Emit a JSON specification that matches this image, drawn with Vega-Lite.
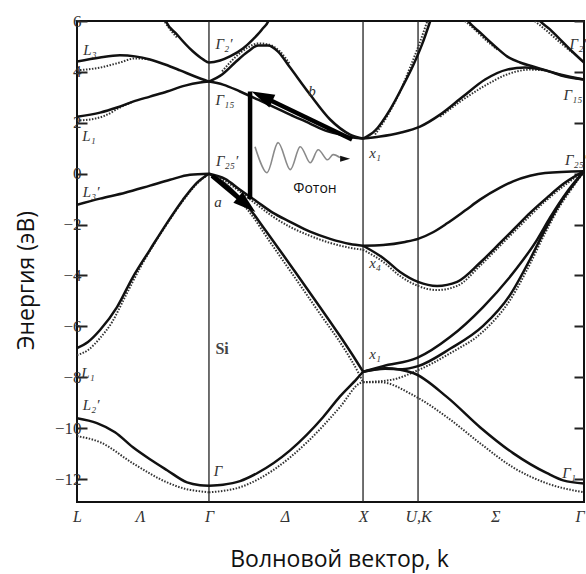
{
  "$schema": "https://vega.github.io/schema/vega-lite/v6.json",
  "width": 507,
  "height": 481,
  "autosize": {"type": "none"},
  "padding": {"left": 77, "top": 21, "right": 2, "bottom": 72},
  "background": "white",
  "config": {"view": {"stroke": "#111", "strokeWidth": 2}},
  "datasets": {
    "solid": [
      {"b":"s1","k":0,"E":-9.61},{"b":"s1","k":0.129,"E":-9.80},{"b":"s1","k":0.246,"E":-10.16},{"b":"s1","k":0.362,"E":-10.75},{"b":"s1","k":0.472,"E":-11.22},{"b":"s1","k":0.583,"E":-11.65},{"b":"s1","k":0.712,"E":-12.13},{"b":"s1","k":0.796,"E":-12.24},{"b":"s1","k":0.854,"E":-12.26},
      {"b":"s2","k":0.854,"E":-12.26},{"b":"s2","k":0.945,"E":-12.22},{"b":"s2","k":1.055,"E":-12.08},{"b":"s2","k":1.165,"E":-11.77},{"b":"s2","k":1.379,"E":-10.87},{"b":"s2","k":1.592,"E":-9.57},{"b":"s2","k":1.702,"E":-8.75},{"b":"s2","k":1.812,"E":-8.05},{"b":"s2","k":1.851,"E":-7.78},
      {"b":"s3","k":1.851,"E":-7.78},{"b":"s3","k":1.994,"E":-7.64},{"b":"s3","k":2.175,"E":-7.83},{"b":"s3","k":2.395,"E":-8.78},{"b":"s3","k":2.608,"E":-9.96},{"b":"s3","k":2.822,"E":-10.98},{"b":"s3","k":3.042,"E":-11.77},{"b":"s3","k":3.146,"E":-12.05},{"b":"s3","k":3.281,"E":-12.17},
      {"b":"s4","k":0,"E":-6.85},{"b":"s4","k":0.071,"E":-6.61},{"b":"s4","k":0.149,"E":-6.14},{"b":"s4","k":0.259,"E":-5.24},{"b":"s4","k":0.362,"E":-4.06},{"b":"s4","k":0.472,"E":-2.99},{"b":"s4","k":0.583,"E":-1.93},{"b":"s4","k":0.686,"E":-1.02},{"b":"s4","k":0.777,"E":-0.35},{"b":"s4","k":0.854,"E":0},
      {"b":"s5","k":0,"E":-1.22},{"b":"s5","k":0.149,"E":-0.98},{"b":"s5","k":0.311,"E":-0.75},{"b":"s5","k":0.472,"E":-0.47},{"b":"s5","k":0.602,"E":-0.24},{"b":"s5","k":0.731,"E":-0.04},{"b":"s5","k":0.854,"E":0},
      {"b":"s6","k":0.854,"E":0},{"b":"s6","k":0.958,"E":-0.20},{"b":"s6","k":1.055,"E":-0.63},{"b":"s6","k":1.165,"E":-1.10},{"b":"s6","k":1.269,"E":-1.54},{"b":"s6","k":1.379,"E":-1.89},{"b":"s6","k":1.508,"E":-2.28},{"b":"s6","k":1.638,"E":-2.56},{"b":"s6","k":1.767,"E":-2.76},{"b":"s6","k":1.851,"E":-2.83},
      {"b":"s7","k":0.854,"E":0},{"b":"s7","k":0.939,"E":-0.31},{"b":"s7","k":1.023,"E":-0.75},{"b":"s7","k":1.107,"E":-1.30},{"b":"s7","k":1.217,"E":-2.20},{"b":"s7","k":1.379,"E":-3.58},{"b":"s7","k":1.540,"E":-4.96},{"b":"s7","k":1.702,"E":-6.38},{"b":"s7","k":1.812,"E":-7.40},{"b":"s7","k":1.851,"E":-7.78},
      {"b":"s8","k":1.851,"E":-2.83},{"b":"s8","k":1.981,"E":-2.80},{"b":"s8","k":2.123,"E":-2.68},{"b":"s8","k":2.207,"E":-2.56},{"b":"s8","k":2.304,"E":-2.30},{"b":"s8","k":2.395,"E":-1.95},{"b":"s8","k":2.511,"E":-1.45},{"b":"s8","k":2.608,"E":-1.02},{"b":"s8","k":2.738,"E":-0.55},{"b":"s8","k":2.822,"E":-0.30},{"b":"s8","k":2.932,"E":-0.08},{"b":"s8","k":3.029,"E":0.03},{"b":"s8","k":3.281,"E":0.1},
      {"b":"s9","k":1.851,"E":-2.83},{"b":"s9","k":1.981,"E":-3.31},{"b":"s9","k":2.091,"E":-3.86},{"b":"s9","k":2.207,"E":-4.25},{"b":"s9","k":2.330,"E":-4.41},{"b":"s9","k":2.460,"E":-4.25},{"b":"s9","k":2.608,"E":-3.50},{"b":"s9","k":2.738,"E":-2.72},{"b":"s9","k":2.835,"E":-2.13},{"b":"s9","k":2.932,"E":-1.54},{"b":"s9","k":3.042,"E":-0.94},{"b":"s9","k":3.159,"E":-0.35},{"b":"s9","k":3.281,"E":0.1},
      {"b":"s10","k":1.851,"E":-7.78},{"b":"s10","k":1.981,"E":-7.56},{"b":"s10","k":2.201,"E":-7.24},{"b":"s10","k":2.414,"E":-6.42},{"b":"s10","k":2.628,"E":-5.24},{"b":"s10","k":2.848,"E":-3.70},{"b":"s10","k":2.977,"E":-2.60},{"b":"s10","k":3.061,"E":-1.73},{"b":"s10","k":3.172,"E":-0.71},{"b":"s10","k":3.281,"E":0.1},
      {"b":"s20","k":1.851,"E":-7.78},{"b":"s20","k":1.994,"E":-7.66},{"b":"s20","k":2.104,"E":-7.68},{"b":"s20","k":2.207,"E":-7.56},{"b":"s20","k":2.414,"E":-6.88},{"b":"s20","k":2.628,"E":-5.98},{"b":"s20","k":2.803,"E":-4.76},{"b":"s20","k":2.932,"E":-3.36},{"b":"s20","k":3.029,"E":-2.20},{"b":"s20","k":3.126,"E":-1.16},{"b":"s20","k":3.204,"E":-0.50},{"b":"s20","k":3.281,"E":0.1},
      {"b":"s11","k":0.854,"E":3.62},{"b":"s11","k":0.945,"E":3.50},{"b":"s11","k":1.055,"E":3.23},{"b":"s11","k":1.172,"E":2.91},{"b":"s11","k":1.282,"E":2.60},{"b":"s11","k":1.379,"E":2.32},{"b":"s11","k":1.508,"E":1.97},{"b":"s11","k":1.592,"E":1.73},{"b":"s11","k":1.702,"E":1.54},{"b":"s11","k":1.786,"E":1.42},{"b":"s11","k":1.851,"E":1.38},
      {"b":"s12","k":0.854,"E":3.62},{"b":"s12","k":0.939,"E":3.90},{"b":"s12","k":1.023,"E":4.37},{"b":"s12","k":1.107,"E":4.80},{"b":"s12","k":1.172,"E":5.04},{"b":"s12","k":1.236,"E":5.04},{"b":"s12","k":1.301,"E":4.80},{"b":"s12","k":1.379,"E":4.17},{"b":"s12","k":1.508,"E":3.11},{"b":"s12","k":1.638,"E":2.13},{"b":"s12","k":1.767,"E":1.54},{"b":"s12","k":1.851,"E":1.38},
      {"b":"s13","k":0.557,"E":6.5},{"b":"s13","k":0.570,"E":6.06},{"b":"s13","k":0.647,"E":5.47},{"b":"s13","k":0.751,"E":4.80},{"b":"s13","k":0.816,"E":4.49},{"b":"s13","k":0.854,"E":4.37},{"b":"s13","k":0.926,"E":4.45},{"b":"s13","k":0.990,"E":4.61},{"b":"s13","k":1.074,"E":4.92},{"b":"s13","k":1.139,"E":5.28},{"b":"s13","k":1.197,"E":5.67},{"b":"s13","k":1.249,"E":6.14},{"b":"s13","k":1.262,"E":6.5},
      {"b":"s14","k":0,"E":2.24},{"b":"s14","k":0.149,"E":2.40},{"b":"s14","k":0.259,"E":2.60},{"b":"s14","k":0.362,"E":2.83},{"b":"s14","k":0.472,"E":3.03},{"b":"s14","k":0.583,"E":3.23},{"b":"s14","k":0.699,"E":3.46},{"b":"s14","k":0.796,"E":3.58},{"b":"s14","k":0.854,"E":3.62},
      {"b":"s15","k":0,"E":4.41},{"b":"s15","k":0.149,"E":4.57},{"b":"s15","k":0.278,"E":4.65},{"b":"s15","k":0.375,"E":4.61},{"b":"s15","k":0.472,"E":4.49},{"b":"s15","k":0.570,"E":4.29},{"b":"s15","k":0.667,"E":4.06},{"b":"s15","k":0.764,"E":3.82},{"b":"s15","k":0.854,"E":3.62},
      {"b":"s16","k":1.851,"E":1.38},{"b":"s16","k":1.929,"E":1.69},{"b":"s16","k":2.026,"E":2.52},{"b":"s16","k":2.104,"E":3.39},{"b":"s16","k":2.175,"E":4.25},{"b":"s16","k":2.233,"E":5.08},{"b":"s16","k":2.285,"E":5.98},{"b":"s16","k":2.311,"E":6.46},
      {"b":"s17","k":1.851,"E":1.38},{"b":"s17","k":1.961,"E":1.46},{"b":"s17","k":2.091,"E":1.61},{"b":"s17","k":2.220,"E":1.85},{"b":"s17","k":2.350,"E":2.32},{"b":"s17","k":2.498,"E":3.03},{"b":"s17","k":2.641,"E":3.70},{"b":"s17","k":2.783,"E":4.09},{"b":"s17","k":2.900,"E":4.17},{"b":"s17","k":3.029,"E":4.06},{"b":"s17","k":3.159,"E":3.82},{"b":"s17","k":3.281,"E":3.70},
      {"b":"s18","k":2.492,"E":6.4},{"b":"s18","k":2.524,"E":6.06},{"b":"s18","k":2.608,"E":5.55},{"b":"s18","k":2.706,"E":5.00},{"b":"s18","k":2.783,"E":4.61},{"b":"s18","k":2.867,"E":4.37},{"b":"s18","k":2.977,"E":4.17},{"b":"s18","k":3.126,"E":3.90},{"b":"s18","k":3.281,"E":3.70},
      {"b":"s19","k":2.951,"E":6.4},{"b":"s19","k":2.977,"E":6.14},{"b":"s19","k":3.061,"E":5.67},{"b":"s19","k":3.126,"E":5.28},{"b":"s19","k":3.191,"E":4.88},{"b":"s19","k":3.281,"E":4.37}
    ],
    "dotted": [
      {"b":"d1","k":0,"E":-10.31},{"b":"d1","k":0.149,"E":-10.55},{"b":"d1","k":0.362,"E":-11.38},{"b":"d1","k":0.583,"E":-12.13},{"b":"d1","k":0.712,"E":-12.40},{"b":"d1","k":0.796,"E":-12.48},{"b":"d1","k":0.854,"E":-12.52},
      {"b":"d2","k":0.854,"E":-12.52},{"b":"d2","k":1.055,"E":-12.32},{"b":"d2","k":1.269,"E":-11.65},{"b":"d2","k":1.489,"E":-10.55},{"b":"d2","k":1.702,"E":-9.17},{"b":"d2","k":1.832,"E":-8.23},{"b":"d2","k":1.851,"E":-8.19},
      {"b":"d3","k":1.851,"E":-8.19},{"b":"d3","k":1.961,"E":-8.19},{"b":"d3","k":2.175,"E":-8.70},{"b":"d3","k":2.395,"E":-9.57},{"b":"d3","k":2.608,"E":-10.59},{"b":"d3","k":2.822,"E":-11.54},{"b":"d3","k":3.042,"E":-12.17},{"b":"d3","k":3.281,"E":-12.52},
      {"b":"d4","k":0,"E":-7.13},{"b":"d4","k":0.071,"E":-6.93},{"b":"d4","k":0.149,"E":-6.46},{"b":"d4","k":0.227,"E":-5.83},{"b":"d4","k":0.311,"E":-4.84},{"b":"d4","k":0.408,"E":-3.70},{"b":"d4","k":0.472,"E":-3.03},{"b":"d4","k":0.583,"E":-1.97},{"b":"d4","k":0.686,"E":-1.06},{"b":"d4","k":0.777,"E":-0.39},{"b":"d4","k":0.854,"E":0},
      {"b":"d5","k":0.854,"E":0},{"b":"d5","k":0.939,"E":-0.39},{"b":"d5","k":1.029,"E":-0.91},{"b":"d5","k":1.120,"E":-1.54},{"b":"d5","k":1.249,"E":-2.68},{"b":"d5","k":1.411,"E":-4.09},{"b":"d5","k":1.573,"E":-5.51},{"b":"d5","k":1.735,"E":-6.93},{"b":"d5","k":1.819,"E":-7.80},{"b":"d5","k":1.851,"E":-8.19},
      {"b":"d6","k":0.854,"E":0},{"b":"d6","k":0.958,"E":-0.28},{"b":"d6","k":1.055,"E":-0.71},{"b":"d6","k":1.165,"E":-1.22},{"b":"d6","k":1.269,"E":-1.69},{"b":"d6","k":1.379,"E":-2.09},{"b":"d6","k":1.508,"E":-2.44},{"b":"d6","k":1.638,"E":-2.72},{"b":"d6","k":1.767,"E":-2.91},{"b":"d6","k":1.851,"E":-2.99},
      {"b":"d7","k":1.851,"E":-2.99},{"b":"d7","k":1.981,"E":-3.46},{"b":"d7","k":2.091,"E":-4.02},{"b":"d7","k":2.207,"E":-4.41},{"b":"d7","k":2.330,"E":-4.57},{"b":"d7","k":2.460,"E":-4.41},{"b":"d7","k":2.608,"E":-3.62},{"b":"d7","k":2.738,"E":-2.83},{"b":"d7","k":2.835,"E":-2.24},{"b":"d7","k":3.042,"E":-1.02},{"b":"d7","k":3.281,"E":0.1},
      {"b":"d8","k":1.851,"E":-8.19},{"b":"d8","k":2.026,"E":-8.11},{"b":"d8","k":2.207,"E":-7.72},{"b":"d8","k":2.414,"E":-7.06},{"b":"d8","k":2.628,"E":-6.20},{"b":"d8","k":2.803,"E":-4.96},{"b":"d8","k":2.932,"E":-3.54},{"b":"d8","k":3.029,"E":-2.34},{"b":"d8","k":3.126,"E":-1.26},{"b":"d8","k":3.204,"E":-0.57},{"b":"d8","k":3.281,"E":0.1},
      {"b":"d9","k":0,"E":2.09},{"b":"d9","k":0.084,"E":2.13},{"b":"d9","k":0.181,"E":2.28},{"b":"d9","k":0.278,"E":2.60},{"b":"d9","k":0.362,"E":2.83},
      {"b":"d10","k":0,"E":4.06},{"b":"d10","k":0.149,"E":4.17},{"b":"d10","k":0.278,"E":4.37},{"b":"d10","k":0.375,"E":4.53},{"b":"d10","k":0.472,"E":4.49},
      {"b":"d11","k":0.939,"E":4.02},{"b":"d11","k":1.023,"E":4.57},{"b":"d11","k":1.107,"E":4.96},{"b":"d11","k":1.172,"E":5.12},{"b":"d11","k":1.236,"E":5.08},{"b":"d11","k":1.314,"E":4.80},{"b":"d11","k":1.379,"E":4.29},
      {"b":"d12","k":2.350,"E":2.24},{"b":"d12","k":2.498,"E":2.91},{"b":"d12","k":2.641,"E":3.46},{"b":"d12","k":2.783,"E":3.90},{"b":"d12","k":2.932,"E":4.09},{"b":"d12","k":3.029,"E":4.06},
      {"b":"d13","k":2.479,"E":6.14},{"b":"d13","k":2.544,"E":5.83},{"b":"d13","k":2.641,"E":5.28},{"b":"d13","k":2.718,"E":4.88},
      {"b":"d14","k":2.932,"E":6.14},{"b":"d14","k":3.029,"E":5.67},{"b":"d14","k":3.126,"E":5.16},{"b":"d14","k":3.204,"E":4.76},
      {"b":"d15","k":1.929,"E":1.54},{"b":"d15","k":2.013,"E":2.32},{"b":"d15","k":2.091,"E":3.23},{"b":"d15","k":2.155,"E":4.17},{"b":"d15","k":2.214,"E":5.08},{"b":"d15","k":2.266,"E":5.98},
      {"b":"d16","k":0.557,"E":6.06},{"b":"d16","k":0.602,"E":5.67},{"b":"d16","k":0.647,"E":5.35}
    ],
    "sym": [{"k":0.854},{"k":1.851},{"k":2.207}],
    "wave": [
      {"k":1.152,"E":1.06},{"k":1.230,"E":0.04},{"k":1.301,"E":1.22},{"k":1.379,"E":0.16},{"k":1.443,"E":1.06},{"k":1.508,"E":0.43},{"k":1.560,"E":0.94},{"k":1.618,"E":0.55},{"k":1.657,"E":0.75},{"k":1.702,"E":0.63}
    ],
    "shafts": [
      {"k":1.12,"E":3.23,"k2":1.12,"E2":-1.0},
      {"k":1.780,"E":1.34,"k2":1.197,"E2":3.04},
      {"k":0.874,"E":-0.08,"k2":1.098,"E2":-1.22}
    ],
    "labels": [
      {"t":"L₃","k":0.084,"E":4.88},
      {"t":"L₁","k":0.078,"E":1.50},
      {"t":"L₃′","k":0.091,"E":-0.71},
      {"t":"L₁","k":0.071,"E":-7.83},
      {"t":"L₂′","k":0.091,"E":-9.09},
      {"t":"Γ₂′","k":0.951,"E":5.08},
      {"t":"Γ₁₅","k":0.958,"E":2.91},
      {"t":"Γ₂₅′","k":0.971,"E":0.51},
      {"t":"a","k":0.913,"E":-1.10},
      {"t":"Γ","k":0.913,"E":-11.69},
      {"t":"x₁","k":1.929,"E":0.83},
      {"t":"b","k":1.521,"E":3.23},
      {"t":"x₄","k":1.929,"E":-3.50},
      {"t":"x₁","k":1.929,"E":-7.09},
      {"t":"Γ₂′","k":3.243,"E":5.08},
      {"t":"Γ₁₅","k":3.210,"E":3.11},
      {"t":"Γ₂₅′","k":3.230,"E":0.55},
      {"t":"Γ₁","k":3.184,"E":-11.77}
    ]
  },
  "resolve": {"axis": {"y": "independent"}},
  "encoding": {
    "x": {"field": "k", "type": "quantitative", "scale": {"domain": [0, 3.281], "nice": false, "zero": false},
      "axis": {"orient": "bottom", "values": [0, 0.408, 0.854, 1.346, 1.851, 2.207, 2.706, 3.281],
        "labelExpr": "datum.value < 0.2 ? 'L' : datum.value < 0.6 ? 'Λ' : datum.value < 1.0 ? 'Γ' : datum.value < 1.6 ? 'Δ' : datum.value < 2.0 ? 'X' : datum.value < 2.4 ? 'U,K' : datum.value < 3.0 ? 'Σ' : 'Γ'",
        "labelAlign": {"condition": {"test": "datum.value > 3.2", "value": "right"}, "value": "center"},
        "tickSize": 0, "domain": false, "grid": false, "labelFlush": false, "labelOverlap": false, "labelBound": false,
        "labelFont": "Liberation Serif", "labelFontStyle": "italic", "labelFontSize": 16, "labelColor": "#333", "labelPadding": 6,
        "title": "Волновой вектор, k", "titleFont": "Open Sans", "titleFontSize": 23, "titleFontWeight": "normal", "titleColor": "#111",
        "titleX": 262, "titleY": 64, "titleBaseline": "alphabetic"}}
  },
  "layer": [
    {
      "data": {"name": "sym"},
      "mark": {"type": "rule", "color": "#222", "strokeWidth": 1.3},
      "encoding": {}
    },
    {
      "data": {"name": "dotted"},
      "mark": {"type": "line", "interpolate": "monotone", "clip": true, "color": "#333", "strokeWidth": 2, "strokeDash": [1.5, 1.5]},
      "encoding": {
        "y": {"field": "E", "type": "quantitative", "scale": {"domain": [-12.9, 6], "nice": false, "zero": false},
          "axis": {"orient": "right", "values": [-12,-10,-8,-6,-4,-2,0,2,4,6], "tickSize": -10, "tickWidth": 2, "tickColor": "#222", "labels": false, "title": null, "domain": false, "grid": false}},
        "detail": {"field": "b"}
      }
    },
    {
      "data": {"name": "solid"},
      "mark": {"type": "line", "interpolate": "monotone", "clip": true, "color": "#111", "strokeWidth": 2.5},
      "encoding": {
        "y": {"field": "E", "type": "quantitative", "scale": {"domain": [-12.9, 6], "nice": false, "zero": false},
          "axis": {"orient": "left", "values": [-12,-10,-8,-6,-4,-2,0,2,4,6], "tickSize": -10, "tickWidth": 2, "tickColor": "#222", "domain": false, "grid": false,
            "labelFont": "Liberation Serif", "labelFontSize": 17, "labelColor": "#333", "labelPadding": 6,
            "title": "Энергия (эВ)", "titleFont": "Open Sans", "titleFontSize": 23, "titleFontWeight": "normal", "titleColor": "#111",
            "titleX": -44, "titleY": 259, "titleBaseline": "alphabetic"}},
        "detail": {"field": "b"}
      }
    },
    {
      "data": {"name": "wave"},
      "mark": {"type": "line", "interpolate": "cardinal", "color": "#8a8a8a", "strokeWidth": 1.6},
      "encoding": {
        "y": {"field": "E", "type": "quantitative", "scale": {"domain": [-12.9, 6], "nice": false, "zero": false}, "axis": null}
      }
    },
    {
      "data": {"name": "shafts"},
      "mark": {"type": "rule", "color": "#000", "strokeWidth": 4.5},
      "encoding": {
        "x2": {"field": "k2"},
        "y": {"field": "E", "type": "quantitative", "scale": {"domain": [-12.9, 6], "nice": false, "zero": false}, "axis": null},
        "y2": {"field": "E2"}
      }
    },
    {
      "data": {"values": [{"k": 1.197, "E": 3.04}]},
      "mark": {"type": "point", "shape": "M0,-1L0.62,1L-0.62,1Z", "filled": true, "color": "#000", "opacity": 1, "size": 520, "angle": 295},
      "encoding": {
        "y": {"field": "E", "type": "quantitative", "scale": {"domain": [-12.9, 6], "nice": false, "zero": false}, "axis": null}
      }
    },
    {
      "data": {"values": [{"k": 1.098, "E": -1.22}]},
      "mark": {"type": "point", "shape": "M0,-1L0.62,1L-0.62,1Z", "filled": true, "color": "#000", "opacity": 1, "size": 520, "angle": 130},
      "encoding": {
        "y": {"field": "E", "type": "quantitative", "scale": {"domain": [-12.9, 6], "nice": false, "zero": false}, "axis": null}
      }
    },
    {
      "data": {"values": [{"k": 1.735, "E": 0.59}]},
      "mark": {"type": "point", "shape": "M0,-1L0.6,1L-0.6,1Z", "filled": true, "color": "#111", "opacity": 1, "size": 100, "angle": 90},
      "encoding": {
        "y": {"field": "E", "type": "quantitative", "scale": {"domain": [-12.9, 6], "nice": false, "zero": false}, "axis": null}
      }
    },
    {
      "data": {"name": "labels"},
      "mark": {"type": "text", "font": "Liberation Serif", "fontStyle": "italic", "fontSize": 15, "color": "#333", "align": "center", "baseline": "middle"},
      "encoding": {
        "y": {"field": "E", "type": "quantitative", "scale": {"domain": [-12.9, 6], "nice": false, "zero": false}, "axis": null},
        "text": {"field": "t"}
      }
    },
    {
      "data": {"values": [{"t": "Si", "k": 0.939, "E": -6.89}]},
      "mark": {"type": "text", "font": "Liberation Serif", "fontWeight": "bold", "fontSize": 16, "color": "#444", "align": "center", "baseline": "middle"},
      "encoding": {
        "y": {"field": "E", "type": "quantitative", "scale": {"domain": [-12.9, 6], "nice": false, "zero": false}, "axis": null},
        "text": {"field": "t"}
      }
    },
    {
      "data": {"values": [{"t": "Фотон", "k": 1.540, "E": -0.59}]},
      "mark": {"type": "text", "font": "Open Sans", "fontSize": 14, "color": "#111", "align": "center", "baseline": "middle"},
      "encoding": {
        "y": {"field": "E", "type": "quantitative", "scale": {"domain": [-12.9, 6], "nice": false, "zero": false}, "axis": null},
        "text": {"field": "t"}
      }
    }
  ]
}
